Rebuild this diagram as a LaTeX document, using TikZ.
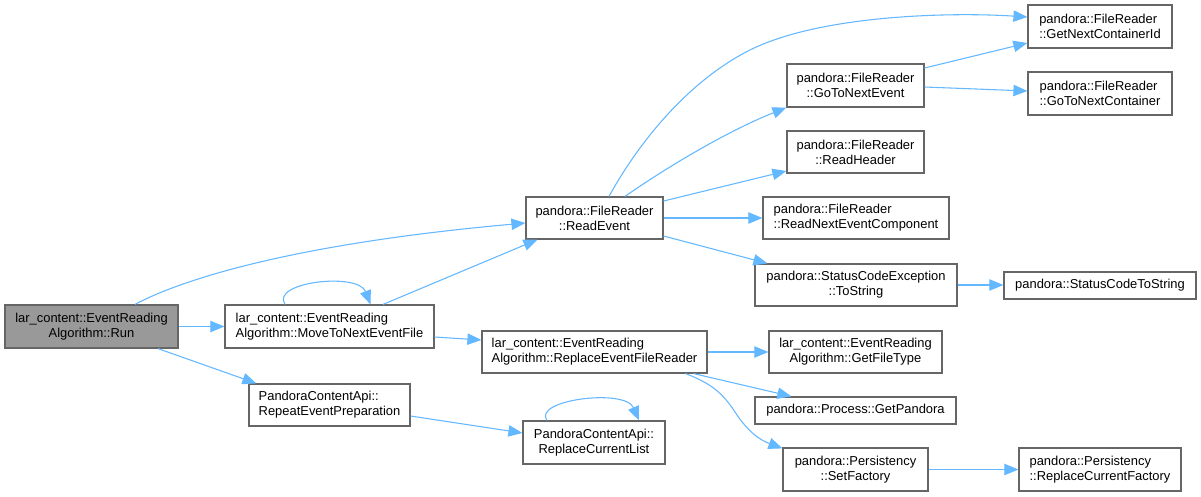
\documentclass[tikz,border=0pt]{standalone}
\usepackage{fontspec}
\setmainfont{Liberation Sans}
\usetikzlibrary{arrows.meta,calc}
\definecolor{edgeblue}{HTML}{63B8FF}
\definecolor{boxgray}{HTML}{666666}
\definecolor{runfill}{HTML}{999999}
\tikzset{
  box/.style 2 args={draw=boxgray, line width=0.9pt, fill=white, inner sep=0pt,
    minimum width=#1*0.75pt, minimum height=#2*0.75pt,
    font=\fontsize{9.7}{11.25}\selectfont, text=black},
  lbox/.style={align=left},
  cbox/.style={align=center},
  edge/.style={draw=edgeblue, line width=0.8pt, -{Triangle[length=10.5pt,width=8.5pt]}},
}
\begin{document}
\begin{tikzpicture}[x=0.75pt,y=-0.75pt]
\useasboundingbox (0,0) rectangle (1201,496);
\fill[white] (0,0) rectangle (1201,496);

\node[box={173}{43}, cbox, fill=runfill] (run) at (91.5,326.5) {lar\_content::EventReading\\Algorithm::Run};
\node[box={209}{43}, lbox] (move) at (329.5,326.5) {lar\_content::EventReading\\Algorithm::MoveToNextEventFile};
\node[box={161}{42}, lbox] (repeat) at (329.5,405) {PandoraContentApi::\\RepeatEventPreparation};
\node[box={137}{42}, cbox] (read) at (594.5,218) {pandora::FileReader\\::ReadEvent};
\node[box={137}{43}, cbox] (gtne) at (855.5,85.5) {pandora::FileReader\\::GoToNextEvent};
\node[box={137}{42}, cbox] (rh) at (855.5,152) {pandora::FileReader\\::ReadHeader};
\node[box={186}{42}, lbox] (rnec) at (856,218) {pandora::FileReader\\::ReadNextEventComponent};
\node[box={202}{42}, cbox] (sce) at (856,285) {pandora::StatusCodeException\\::ToString};
\node[box={225}{42}, lbox] (refr) at (594.5,352) {lar\_content::EventReading\\Algorithm::ReplaceEventFileReader};
\node[box={173}{42}, cbox] (gft) at (855.5,352) {lar\_content::EventReading\\Algorithm::GetFileType};
\node[box={201}{27}, cbox] (gp) at (855.5,410.5) {pandora::Process::GetPandora};
\node[box={145}{43}, cbox] (sf) at (855.5,469.5) {pandora::Persistency\\::SetFactory};
\node[box={142}{43}, cbox] (rcl) at (594,442.5) {PandoraContentApi::\\ReplaceCurrentList};
\node[box={144}{43}, lbox] (gnci) at (1100,26.5) {pandora::FileReader\\::GetNextContainerId};
\node[box={144}{43}, lbox] (gtnc) at (1100,93.5) {pandora::FileReader\\::GoToNextContainer};
\node[box={192}{27}, cbox] (scts) at (1100,285.5) {pandora::StatusCodeToString};
\node[box={162}{43}, lbox] (rcf) at (1100,469.5) {pandora::Persistency\\::ReplaceCurrentFactory};

% edges
\draw[edge] (run.east) -- (move.west);
\draw[edge] ($(run.north)+(43.5,0)$) .. controls (175,283) and (280,245) .. ($(read.west)+(0,5)$);
\draw[edge] ($(run.south)+(66.5,0)$) -- ($(repeat.north west)+(8,0)$);
\draw[edge] ($(move.north)+(-44.5,0)$) .. controls (270,282) and (358,272) .. ($(move.north)+(41,0)$);
\draw[edge] ($(move.north)+(53.5,0)$) -- ($(read.south west)+(12,0)$);
\draw[edge] ($(move.east)+(0,10.5)$) -- ($(refr.west)+(0,-12)$);
\draw[edge] ($(repeat.east)+(0,11)$) -- ($(rcl.west)+(0,-9.5)$);
\draw[edge] ($(rcl.north)+(-47,0)$) .. controls (532,400) and (625,388) .. ($(rcl.north)+(45,0)$);
\draw[edge] ($(read.north)+(14.5,0)$) .. controls (640,140) and (690,80) .. (750,50) .. controls (820,15) and (950,12) .. ($(gnci.west)+(0,-9.5)$);
\draw[edge] ($(read.north)+(30.5,0)$) .. controls (670,165) and (730,130) .. (gtne.south west);
\draw[edge] ($(read.east)+(0,-17)$) -- ($(rh.west)+(0,19)$);
\draw[edge] (read.east) -- (rnec.west);
\draw[edge] ($(read.east)+(0,18)$) -- ($(sce.north west)+(13,0)$);
\draw[edge] ($(gtne.east)+(0,-17.5)$) -- ($(gnci.west)+(0,16.5)$);
\draw[edge] ($(gtne.east)+(0,1.5)$) -- ($(gtnc.west)+(0,-2.5)$);
\draw[edge] (sce.east) -- (sce.east -| scts.west);
\draw[edge] (refr.east) -- (gft.west);
\draw[edge] ($(refr.south east)+(-14,0)$) -- ($(gp.north west)+(37,0)$);
\draw[edge] ($(refr.south east)+(-22,0)$) .. controls (710,383) and (722,392) .. (735,412) .. controls (748,432) and (760,440) .. ($(sf.north west)+(0,1)$);
\draw[edge] (sf.east) -- (rcf.west);
\end{tikzpicture}
\end{document}
